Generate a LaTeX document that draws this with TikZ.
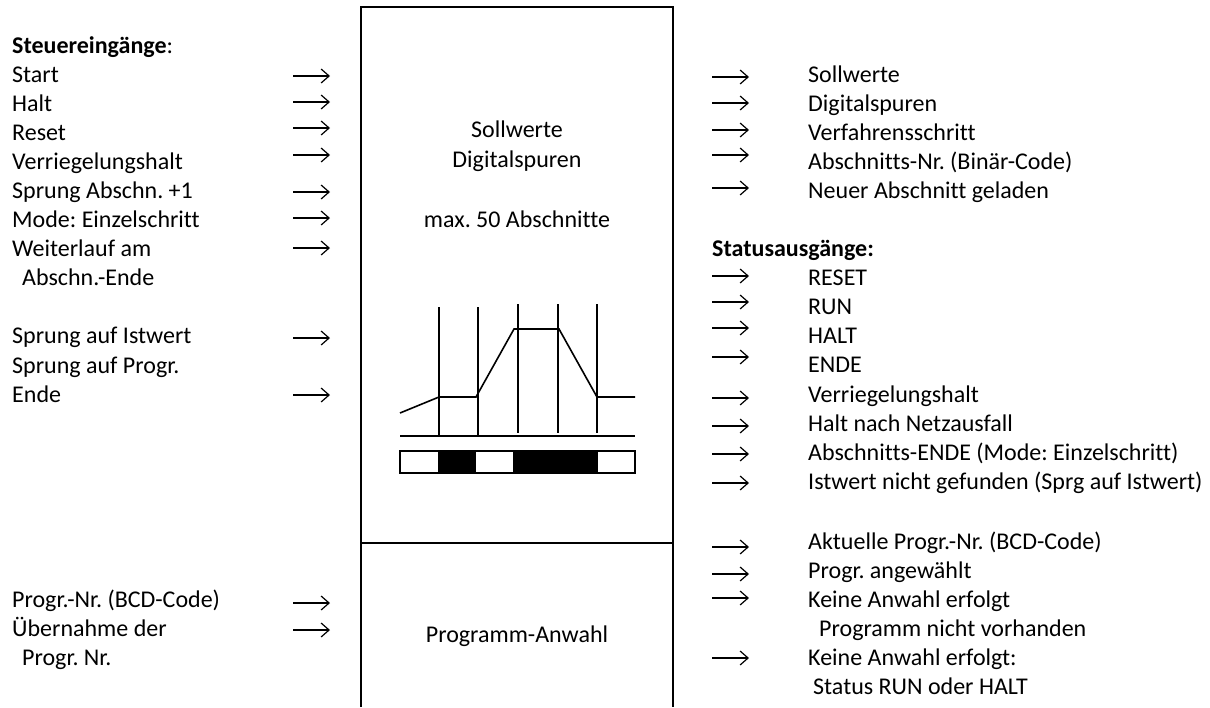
\documentclass[tikz,border=0pt]{standalone}
\usepackage{fontspec}
\setmainfont{Carlito}[Ligatures=NoCommon]
\usetikzlibrary{arrows.meta}
\frenchspacing

\begin{document}
\begin{tikzpicture}[x=1pt, y=-1pt,
    lbl/.style={anchor=west, inner sep=0pt, text height=15pt, text depth=0pt,
                font=\fontsize{24}{28}\selectfont},
    ctr/.style={lbl, anchor=center},
    arr/.style={-{Straight Barb[length=8pt, width=14pt]}, line width=1.2pt},
    line/.style={line width=1.6pt}]
  \useasboundingbox (0,0) rectangle (1210,707);

  % Main block (open at the bottom)
  \draw[line] (361,707) -- (361,7) -- (673,7) -- (673,707);
  \draw[line] (361,543) -- (673,543);
  \node[ctr] (sollw) at (517,130) {Sollwerte};
  \node[ctr] (digit) at (517,160) {Digitalspuren};
  \node[ctr] (abschn) at (517,220) {max. 50 Abschnitte};
  \node[ctr] (anwahl) at (517,635) {Programm-Anwahl};

  % Set point profile
  \foreach \x in {439,478} \draw[line] (\x,307) -- (\x,436);
  \foreach \x in {518,558,597} \draw[line] (\x,304) -- (\x,433);
  \draw[line] (400,436) -- (635,436);
  \draw[line] (400,413) -- (439,397) -- (476,397) -- (514,329)
    -- (559,329) -- (597,397) -- (635,397);

  % Digital track
  \fill (438,451) rectangle (476,473);
  \fill (513,451) rectangle (598,473);
  \draw[line] (400,451) rectangle (635,473);

  % Control inputs
  \node[lbl] (steuer) at (12,46) {\textbf{Steuereingänge}:};
  \foreach \y/\t [count=\i] in {75/Start, 104/Halt, 133/Reset,
      162/Verriegelungshalt, 191/Sprung Abschn. +1, 220/Mode: Einzelschritt,
      249/Weiterlauf am, 336/Sprung auf Istwert, 366/Sprung auf Progr.,
      395/Ende, 600/Progr.-Nr. (BCD-Code), 629/Übernahme der}
    \node[lbl] (in\i) at (12,\y) {\t};
  \node[lbl] (in13) at (22,278) {Abschn.-Ende};
  \node[lbl] (in14) at (22,658) {Progr. Nr.};
  \foreach \y in {76,102,128,155,192,218,248,338,395,603,630}
    \draw[arr] (293,\y) -- (330,\y);

  % Data outputs
  \foreach \y/\t [count=\i] in {75/Sollwerte, 104/Digitalspuren,
      133/Verfahrensschritt, 162/Abschnitts-Nr. (Binär-Code),
      191/Neuer Abschnitt geladen}
    \node[lbl] (out\i) at (808,\y) {\t};
  \foreach \y in {77,103,130,155,188}
    \draw[arr] (712,\y) -- (749,\y);

  % Status outputs
  \node[lbl] (status) at (712,249) {\textbf{Statusausgänge:}};
  \foreach \y/\t [count=\i] in {278/RESET, 307/RUN, 336/HALT, 365/ENDE,
      395/Verriegelungshalt, 424/Halt nach Netzausfall,
      453/Abschnitts-ENDE (Mode: Einzelschritt),
      482/Istwert nicht gefunden (Sprg auf Istwert),
      542/Aktuelle Progr.-Nr. (BCD-Code), 571/Progr. angewählt,
      600/Keine Anwahl erfolgt, 658/Keine Anwahl erfolgt:}
    \node[lbl] (st\i) at (808,\y) {\t};
  \node[lbl] (st13) at (819,629) {Programm nicht vorhanden};
  \node[lbl] (st14) at (813,687) {Status RUN oder HALT};
  \foreach \y in {276,302,328,357,398,426,454,483,547,574,598,658}
    \draw[arr] (712,\y) -- (749,\y);
\end{tikzpicture}
\end{document}
